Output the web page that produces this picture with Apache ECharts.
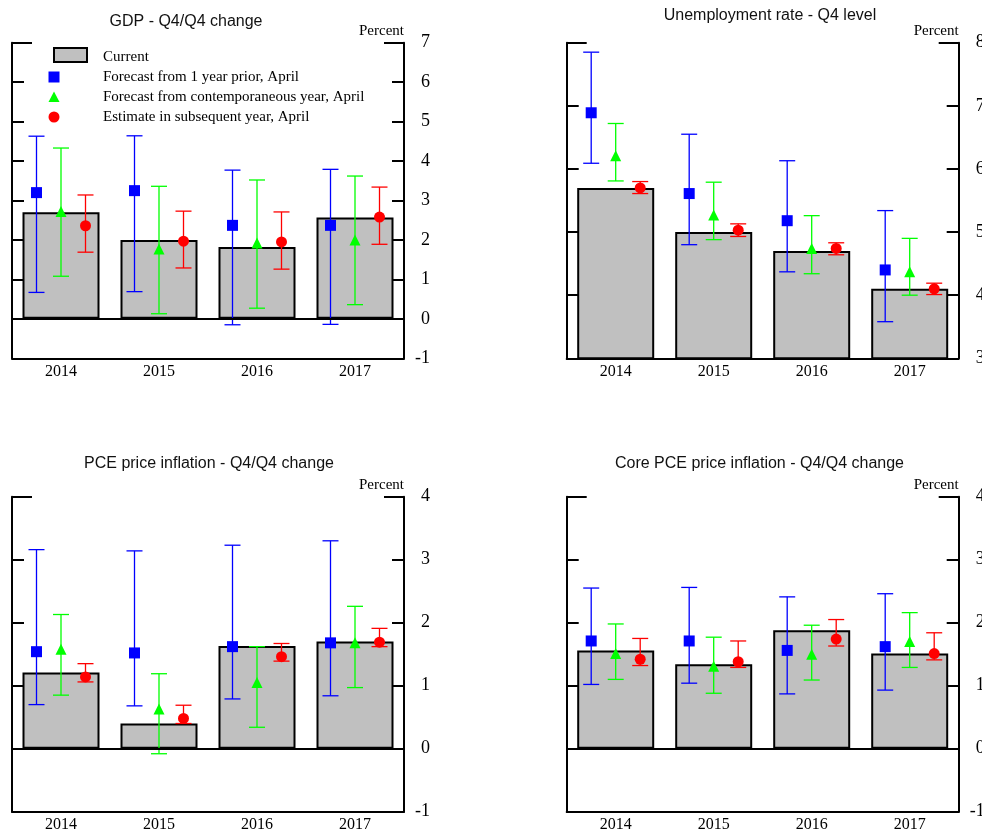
<!DOCTYPE html>
<html><head><meta charset="utf-8">
<script src="https://cdn.jsdelivr.net/npm/echarts@6/dist/echarts.min.js"></script>
<style>html,body{margin:0;padding:0;background:#fff}#c{width:982px;height:829px}</style>
</head><body><div id="c"></div>
<script>
// ---------- DATA ----------
const categories = ['2014', '2015', '2016', '2017'];
const seriesNames = ['Current', 'Forecast from 1 year prior, April',
  'Forecast from contemporaneous year, April', 'Estimate in subsequent year, April'];
const panelTitles = ['GDP - Q4/Q4 change', 'Unemployment rate - Q4 level',
  'PCE price inflation - Q4/Q4 change', 'Core PCE price inflation - Q4/Q4 change'];
const unitLabel = 'Percent';

// each forecast entry: [estimate, low, high]
const gdpCurrent = [2.70, 2.00, 1.82, 2.57];
const gdpPrior = [[3.20, 0.67, 4.63], [3.25, 0.69, 4.64], [2.37, -0.15, 3.77], [2.37, -0.14, 3.79]];
const gdpContemp = [[2.72, 1.08, 4.33], [1.77, 0.13, 3.36], [1.92, 0.27, 3.52], [2.00, 0.36, 3.62]];
const gdpSubseq = [[2.36, 1.69, 3.14], [1.97, 1.29, 2.73], [1.95, 1.26, 2.71], [2.58, 1.89, 3.34]];

const urCurrent = [5.70, 5.00, 4.70, 4.10];
const urPrior = [[6.89, 6.09, 7.85], [5.61, 4.80, 6.55], [5.18, 4.37, 6.13], [4.40, 3.58, 5.34]];
const urContemp = [[6.21, 5.81, 6.72], [5.27, 4.88, 5.79], [4.74, 4.34, 5.26], [4.37, 4.00, 4.90]];
const urSubseq = [[5.70, 5.61, 5.80], [5.03, 4.93, 5.13], [4.74, 4.64, 4.83], [4.10, 4.01, 4.19]];

const pceCurrent = [1.21, 0.40, 1.63, 1.70];
const pcePrior = [[1.54, 0.70, 3.16], [1.52, 0.68, 3.14], [1.62, 0.79, 3.23], [1.68, 0.84, 3.30]];
const pceContemp = [[1.58, 0.85, 2.13], [0.63, -0.08, 1.19], [1.05, 0.34, 1.62], [1.68, 0.97, 2.26]];
const pceSubseq = [[1.14, 1.06, 1.35], [0.48, 0.40, 0.69], [1.46, 1.39, 1.67], [1.69, 1.62, 1.91]];

const coreCurrent = [1.56, 1.34, 1.88, 1.51];
const corePrior = [[1.71, 1.02, 2.55], [1.71, 1.04, 2.56], [1.56, 0.87, 2.41], [1.62, 0.93, 2.46]];
const coreContemp = [[1.51, 1.10, 1.98], [1.31, 0.88, 1.77], [1.50, 1.09, 1.96], [1.70, 1.29, 2.16]];
const coreSubseq = [[1.42, 1.32, 1.75], [1.38, 1.29, 1.71], [1.74, 1.63, 2.05], [1.51, 1.41, 1.84]];

const axisRanges = [[-1, 7], [3, 8], [-1, 4], [-1, 4]];

// ---------- LAYOUT / STYLE ----------
const panels = [
  { data: [gdpCurrent, gdpPrior, gdpContemp, gdpSubseq], left: 12, top: 42.7, height: 315.6, titleX: 186, titleY: 22, zero: true },
  { data: [urCurrent, urPrior, urContemp, urSubseq], left: 566.7, top: 42.7, height: 315.6, titleX: 770, titleY: 16, zero: false },
  { data: [pceCurrent, pcePrior, pceContemp, pceSubseq], left: 12, top: 496.7, height: 315, titleX: 209, titleY: 464, zero: true },
  { data: [coreCurrent, corePrior, coreContemp, coreSubseq], left: 566.7, top: 496.7, height: 315, titleX: 759.5, titleY: 464, zero: true }
];
const GW = 392;
const colors = ['#0000ff', '#00ff00', '#ff0000'];
const symbols = ['rect', 'triangle', 'circle'];
const offsets = [-0.25, 0, 0.25];
const SERIF = '"Liberation Serif", "DejaVu Serif", serif';
const SANS = '"Liberation Sans", Arial, sans-serif';

function errRender(frac, color) {
  return function (params, api) {
    const i = api.value(0);
    const pLo = api.coord([i, api.value(1)]);
    const pHi = api.coord([i, api.value(2)]);
    const band = api.size([1, 0])[0];
    const cx = pLo[0] + band * frac;
    const c = 8;
    const st = { stroke: color, lineWidth: 1.3 };
    return {
      type: 'group', children: [
        { type: 'line', shape: { x1: cx, y1: pHi[1], x2: cx, y2: pLo[1] }, style: st },
        { type: 'line', shape: { x1: cx - c, y1: pHi[1], x2: cx + c, y2: pHi[1] }, style: st },
        { type: 'line', shape: { x1: cx - c, y1: pLo[1], x2: cx + c, y2: pLo[1] }, style: st }
      ]
    };
  };
}

const grid = [], xAxis = [], yAxis = [], series = [], graphic = [];
const blk = '#000';
panels.forEach((p, k) => {
  const [mn, mx] = axisRanges[k];
  grid.push({ left: p.left, top: p.top, width: GW, height: p.height, containLabel: false, outerBoundsMode: 'none' });
  xAxis.push({
    gridIndex: k, type: 'category', data: categories,
    axisLine: { onZero: false, lineStyle: { color: blk, width: 2 } },
    axisTick: { inside: true, length: 12, lineStyle: { color: blk, width: 2 } },
    axisLabel: { color: blk, fontFamily: SERIF, fontSize: 16, margin: 5 },
    splitLine: { show: false }
  });
  const base = { gridIndex: k, type: 'value', min: mn, max: mx, interval: 1, splitLine: { show: false } };
  yAxis.push(Object.assign({}, base, {
    position: 'left',
    axisLine: { show: true, lineStyle: { color: blk, width: 2 } },
    axisTick: { show: true, inside: true, length: 12, lineStyle: { color: blk, width: 2 } },
    axisLabel: { show: false }
  }));
  yAxis.push(Object.assign({}, base, {
    position: 'right',
    name: unitLabel, nameLocation: 'end', nameGap: 4,
    nameTextStyle: { color: blk, fontFamily: SERIF, fontSize: 15, align: 'right', verticalAlign: 'bottom' },
    axisLine: { show: true, lineStyle: { color: blk, width: 2 } },
    axisTick: { show: true, inside: true, length: 12, lineStyle: { color: blk, width: 2 } },
    axisLabel: { color: blk, fontFamily: SERIF, fontSize: 18, align: 'right', margin: 26 }
  }));
  ['left', 'right'].forEach(pos => {
    yAxis.push(Object.assign({}, base, {
      position: pos,
      axisLine: { show: false },
      axisTick: { show: true, inside: true, length: 20, customValues: [mx], lineStyle: { color: blk, width: 2 } },
      axisLabel: { show: false }
    }));
  });
  const yi = 4 * k;
  const bar = {
    type: 'bar', name: seriesNames[0], xAxisIndex: k, yAxisIndex: yi, data: p.data[0],
    barWidth: 77, z: 2,
    itemStyle: { color: '#c0c0c0', borderColor: blk, borderWidth: 2 }
  };
  if (p.zero) {
    bar.markLine = {
      silent: true, symbol: ['none', 'none'], label: { show: false },
      lineStyle: { color: blk, width: 2, type: 'solid' },
      data: [{ yAxis: 0 }], animation: false
    };
  }
  series.push(bar);
  for (let s = 0; s < 3; s++) {
    const d = p.data[s + 1];
    series.push({
      type: 'custom', name: seriesNames[s + 1], xAxisIndex: k, yAxisIndex: yi, z: 3,
      renderItem: errRender(offsets[s], colors[s]),
      encode: { x: 0, y: [1, 2] },
      data: d.map((v, i) => [i, v[1], v[2]])
    });
  }
  for (let s = 0; s < 3; s++) {
    const d = p.data[s + 1];
    series.push({
      type: 'scatter', name: seriesNames[s + 1], xAxisIndex: k, yAxisIndex: yi, z: 4,
      symbol: symbols[s], symbolSize: 11,
      symbolOffset: [offsets[s] * GW / 4, 0],
      itemStyle: { color: colors[s], opacity: 1 },
      data: d.map(v => v[0])
    });
  }
  graphic.push({
    type: 'text', x: p.titleX, y: p.titleY,
    style: { text: panelTitles[k], font: '16px ' + SANS, fill: '#111', textAlign: 'center', textVerticalAlign: 'middle' }
  });
});

// legend (inside GDP panel)
const lgText = (t, y) => ({ type: 'text', x: 103, y: y, style: { text: t, font: '15px ' + SERIF, fill: '#000', textVerticalAlign: 'middle' } });
graphic.push(
  { type: 'rect', shape: { x: 54, y: 48, width: 33, height: 14 }, style: { fill: '#c0c0c0', stroke: '#000', lineWidth: 2 } },
  lgText(seriesNames[0], 57),
  { type: 'rect', shape: { x: 48.5, y: 71.5, width: 11, height: 11 }, style: { fill: colors[0] } },
  lgText(seriesNames[1], 77),
  { type: 'polygon', shape: { points: [[54, 91.5], [59.5, 102], [48.5, 102]] }, style: { fill: colors[1] } },
  lgText(seriesNames[2], 97),
  { type: 'circle', shape: { cx: 54, cy: 117, r: 5.5 }, style: { fill: colors[2] } },
  lgText(seriesNames[3], 117)
);

const chart = echarts.init(document.getElementById('c'));
chart.setOption({
  animation: false,
  backgroundColor: '#fff',
  legend: { show: false },
  grid, xAxis, yAxis, series, graphic
});
</script>
</body></html>
